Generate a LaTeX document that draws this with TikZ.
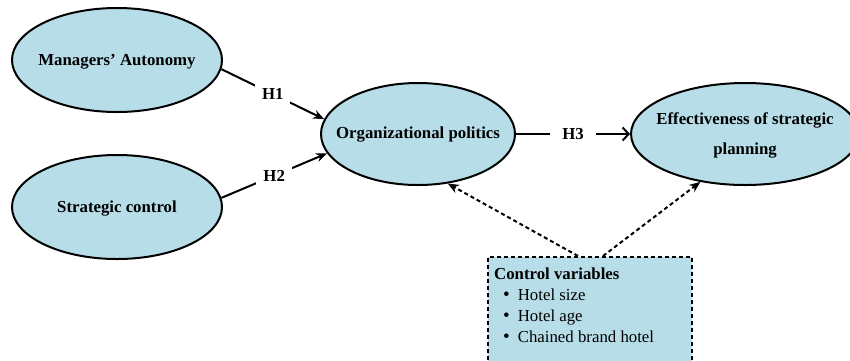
\documentclass[tikz,border=0pt]{standalone}
\usepackage{fontspec}
\setmainfont{Liberation Serif}
\usetikzlibrary{shapes.geometric,arrows.meta}
\definecolor{fillblue}{RGB}{183,222,232}
\newcommand{\bulletitem}{\hspace*{9pt}{\fontsize{19}{21}\selectfont\textbullet}\hspace{8pt}}
\begin{document}
\begin{tikzpicture}[x=1pt,y=-1pt,
  every node/.style={font=\fontsize{16.8}{21}\selectfont},
  construct/.style={ellipse,draw,line width=2pt,fill=fillblue,inner sep=0pt},
  ctext/.style={inner sep=0pt,font=\fontsize{16.8}{30}\selectfont\bfseries,align=center},
  ctrlbox/.style={rectangle,draw,dash pattern=on 4pt off 3pt,line width=2pt,fill=fillblue,inner sep=0pt},
  hyp/.style={line width=2pt,-{Stealth[length=11pt,width=9pt]}},
  hlabel/.style={fill=white,inner sep=7pt,font=\fontsize{16.8}{21}\selectfont\bfseries},
  ctrlarrow/.style={line width=2pt,dash pattern=on 4pt off 3pt,-{Stealth[length=11pt,width=9pt]}}]
\useasboundingbox (0,0) rectangle (850,360);
\clip (0,0) rectangle (850,360);
\node[construct,minimum width=210pt,minimum height=104pt] (ma) at (117,60) {};
\node[ctext] (mat) at ([yshift=-2pt]ma.center) {Managers' Autonomy};
\node[construct,minimum width=210pt,minimum height=104pt] (sc) at (117,207) {};
\node[ctext] (sct) at ([yshift=-2pt]sc.center) {Strategic control};
\node[construct,minimum width=194pt,minimum height=102pt] (op) at (418,134) {};
\node[ctext] (opt) at ([yshift=-1pt]op.center) {Organizational politics};
\node[construct,minimum width=228pt,minimum height=102pt] (ef) at (745,134) {};
\node[ctext] (eft) at ([yshift=-1pt]ef.center) {Effectiveness of strategic\\planning};
\node[ctrlbox,minimum width=204pt,minimum height=130pt,anchor=north] (cv) at (590,256) {};
\node[anchor=north west,align=left,inner sep=0pt] (cvt) at (494,268) {\textbf{Control variables}\\\bulletitem Hotel size\\\bulletitem Hotel age\\\bulletitem Chained brand hotel};
\draw[hyp] (ma.-5) -- node[hlabel] (h1) {H1} (op.171);
\draw[hyp] (sc.5) -- node[hlabel] (h2) {H2} (op.-168);
\draw[line width=2pt,-{Straight Barb[length=6pt,width=13pt]}] (op.east) -- node[hlabel,inner xsep=12pt] (h3) {H3} (ef.west);
\coordinate (cvl) at ([xshift=-12pt]cv.north);
\coordinate (cvr) at ([xshift=13pt]cv.north);
\draw[ctrlarrow] (cvl) -- (op.-59);
\draw[ctrlarrow] (cvr) -- (ef.-133);
\end{tikzpicture}
\end{document}
